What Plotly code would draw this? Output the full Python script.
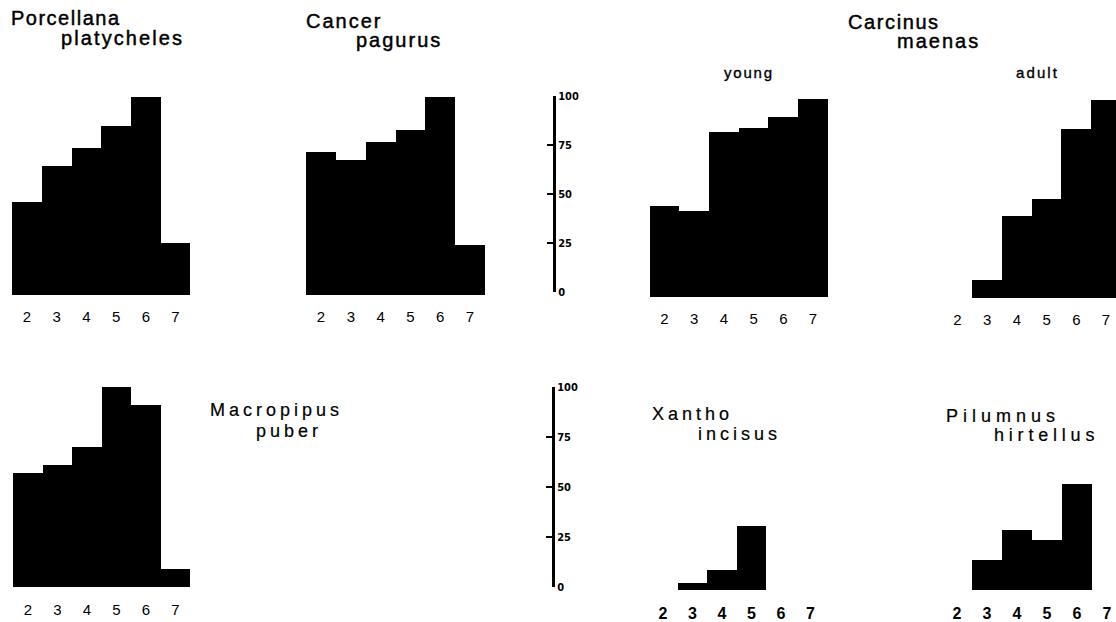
import plotly.graph_objects as go

W, H = 1116, 622

# ---------------- data ----------------
tick_values = [2, 3, 4, 5, 6, 7]
tick_labels = ["2", "3", "4", "5", "6", "7"]

porcellana_x = [2, 3, 4, 5, 6, 7]
porcellana_y = [47, 65, 74, 85, 100, 26]

cancer_x = [2, 3, 4, 5, 6, 7]
cancer_y = [72, 68, 77, 83, 100, 25]

carcinus_young_x = [2, 3, 4, 5, 6, 7]
carcinus_young_y = [46, 43, 83, 85, 91, 100]

carcinus_adult_x = [3, 4, 5, 6, 7]
carcinus_adult_y = [9, 41, 50, 85, 100]

macropipus_x = [2, 3, 4, 5, 6, 7]
macropipus_y = [57, 61, 70, 100, 91, 9]

xantho_x = [3, 4, 5]
xantho_y = [3.5, 10, 32]

pilumnus_x = [3, 4, 5, 6]
pilumnus_y = [15, 30, 25, 53]

scale_values = [0, 25, 50, 75, 100]
scale_labels = ["0", "25", "50", "75", "100"]

# ---------------- helpers ----------------
# the photographed page is slightly compressed vertically; map the wanted
# on-picture pixel row to the figure pixel row
V_SCALE, V_OFF = 0.9756, 6.4

def fx(px):
    return px / W

def fy(py):
    return 1 - ((py - V_OFF) / V_SCALE) / H

TITLE_FONT = "Liberation Sans, Arial, Helvetica, sans-serif"
NARROW_FONT = "Liberation Sans Narrow, DejaVu Sans Condensed, Arial Narrow, sans-serif"

fig = go.Figure()

# panel geometry: (x data, y data, left px, right px, px of category 2, px per unit,
#                  baseline px, px per value unit, bold tick labels)
panels = [
    (porcellana_x, porcellana_y, 5, 200, 27, 29.7, 295, 1.98, False),
    (cancer_x, cancer_y, 295, 495, 321, 29.8, 295, 1.98, False),
    (carcinus_young_x, carcinus_young_y, 640, 840, 664.5, 29.7, 297, 1.98, False),
    (carcinus_adult_x, carcinus_adult_y, 940, 1116, 957.5, 29.7, 298, 1.98, False),
    (macropipus_x, macropipus_y, 5, 200, 28, 29.5, 588, 2.0, False),
    (xantho_x, xantho_y, 640, 830, 663, 29.5, 591, 2.0, True),
    (pilumnus_x, pilumnus_y, 935, 1116, 957, 30.0, 591, 2.0, True),
]

layout_axes = {}
n = 0
for (xs, ys, L, R, c2, u, base, k, bold) in panels:
    n += 1
    xa = "x" if n == 1 else f"x{n}"
    ya = "y" if n == 1 else f"y{n}"
    fig.add_trace(go.Bar(
        x=xs, y=ys, width=1.0, marker=dict(color="black", line=dict(width=0)),
        xaxis=xa, yaxis=ya, showlegend=False, hoverinfo="x+y",
    ))
    B = base + 12
    T = base - 110 * k
    xname = "xaxis" if n == 1 else f"xaxis{n}"
    yname = "yaxis" if n == 1 else f"yaxis{n}"
    layout_axes[xname] = dict(
        domain=[fx(L), fx(R)],
        range=[2 + (L - c2) / u, 2 + (R - c2) / u],
        anchor=ya, tickmode="array", tickvals=tick_values, ticktext=tick_labels,
        showgrid=False, zeroline=False, showline=False, ticks="",
        tickfont=dict(family=TITLE_FONT, size=16 if bold else 15, color="black",
                      weight="bold" if bold else "normal"),
        fixedrange=True,
    )
    layout_axes[yname] = dict(
        domain=[fy(B), fy(T)],
        range=[-(B - base) / k, (base - T) / k],
        anchor=xa, visible=False, fixedrange=True,
    )

# scale bars
for (xpx, top, bot) in [(553, 97, 293), (552, 388, 588)]:
    n += 1
    xa = f"x{n}"
    ya = f"y{n}"
    fig.add_trace(go.Scatter(
        x=[0], y=[0], mode="markers", marker=dict(opacity=0),
        xaxis=xa, yaxis=ya, showlegend=False, hoverinfo="skip",
    ))
    layout_axes[f"xaxis{n}"] = dict(
        domain=[fx(xpx - 20), fx(xpx)], range=[0, 1], visible=False,
        anchor=ya, fixedrange=True,
    )
    layout_axes[f"yaxis{n}"] = dict(
        domain=[fy(bot), fy(top)], range=[0, 100], side="right", anchor=xa,
        showline=True, linewidth=3, linecolor="black",
        ticks="inside", ticklen=6, tickwidth=1.5, tickcolor="black",
        tickmode="array", tickvals=scale_values, ticktext=scale_labels,
        tickfont=dict(family=NARROW_FONT, size=11, color="black", weight="bold"),
        showgrid=False, zeroline=False, fixedrange=True,
    )

# titles (text, left px, centre px, size, letter spacing, stroke width)
titles = [
    ("Porcellana", 9, 18, 20, 1.5, 0.45),
    ("platycheles", 59, 38, 20, 2.1, 0.45),
    ("Cancer", 304, 21, 20, 2.0, 0.45),
    ("pagurus", 354, 40, 20, 2.0, 0.45),
    ("Carcinus", 846, 22, 20, 1.6, 0.45),
    ("maenas", 895, 41, 20, 2.0, 0.45),
    ("young", 722, 73, 15, 1.8, 0.35),
    ("adult", 1014, 73, 15, 2.1, 0.35),
    ("Macropipus", 208, 411, 18, 4.0, 0.2),
    ("puber", 254, 432, 18, 4.0, 0.2),
    ("Xantho", 650, 415, 18, 4.0, 0.2),
    ("incisus", 696, 435, 18, 4.0, 0.2),
    ("Pilumnus", 944, 417, 18, 5.0, 0.2),
    ("hirtellus", 992, 436, 18, 4.8, 0.2),
]
annotations = []
for (txt, lpx, cpy, size, sp, sw) in titles:
    annotations.append(dict(
        text=(f'<span style="letter-spacing:{sp}px;stroke:black;'
              f'stroke-width:{sw}px">{txt}</span>'),
        x=fx(lpx), y=fy(cpy), xref="paper", yref="paper",
        xanchor="left", yanchor="middle", showarrow=False,
        font=dict(family=TITLE_FONT, size=size, color="black"),
    ))

fig.update_layout(
    width=W, height=H,
    margin=dict(l=0, r=0, t=0, b=0),
    paper_bgcolor="white", plot_bgcolor="rgba(0,0,0,0)",
    bargap=0, showlegend=False,
    annotations=annotations,
    **layout_axes,
)

fig.write_html(
    "out.html",
    config={"displayModeBar": False},
    post_script="document.body.style.margin='0';document.body.style.padding='0';"
                "document.body.style.overflow='hidden';",
)
